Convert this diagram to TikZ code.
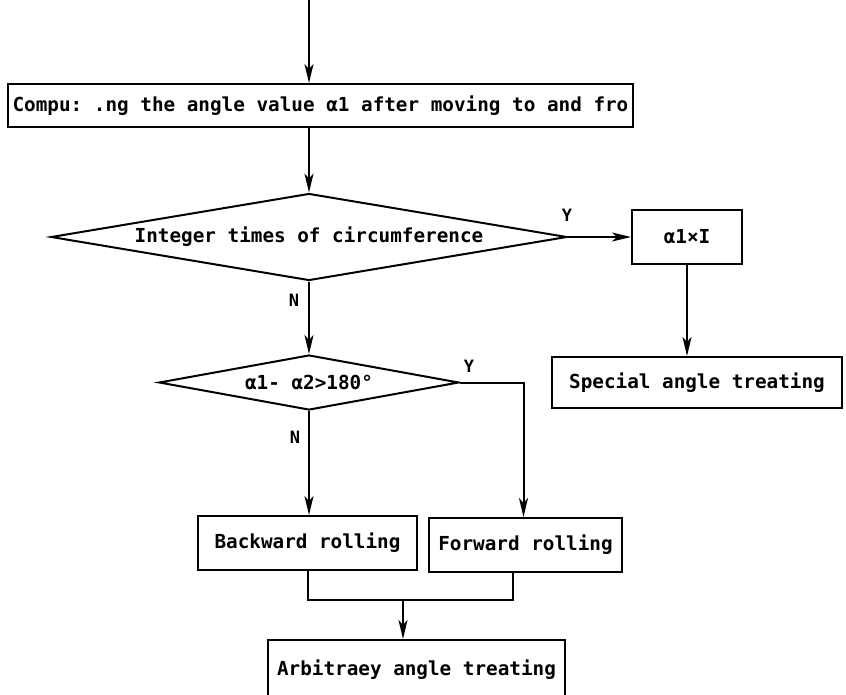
\documentclass[tikz,border=0pt]{standalone}
\usepackage{fontspec}
\setmonofont{DejaVu Sans Mono}
\usetikzlibrary{shapes.geometric,arrows.meta,calc}
\begin{document}
\begin{tikzpicture}[x=1pt,y=-1pt,
  lw/.style={line width=2pt},
  txt/.style={font=\ttfamily\bfseries\fontsize{19.3}{22}\selectfont},
  procbox/.style={draw,lw,rectangle,inner sep=0pt,txt},
  decbox/.style={draw,lw,diamond,inner sep=0pt,txt},
  lab/.style={font=\ttfamily\bfseries\fontsize{17}{19}\selectfont,inner sep=0pt},
  arr/.style={lw,-{Stealth[length=19pt,width=9pt,inset=5pt]}},
  conn/.style={lw}]
\useasboundingbox (0,0) rectangle (846,694);
\clip (0,0) rectangle (846,694);
\coordinate (start) at (309,0);
\node[procbox,minimum width=625pt,minimum height=43pt] (top) at (320.5,105.5) {Compu: .ng the angle value α1 after moving to and fro};
\node[decbox,minimum width=516pt,minimum height=87pt,aspect=5.93] (d1) at (309,237) {Integer times of circumference};
\node[procbox,minimum width=110pt,minimum height=54pt] (ab) at (687,237) {α1×I};
\node[procbox,minimum width=290pt,minimum height=51pt] (sp) at (697,382.5) {Special angle treating};
\node[decbox,minimum width=300pt,minimum height=55pt,aspect=5.45] (d2) at (309,382.5) {α1- α2>180°};
\node[procbox,minimum width=219pt,minimum height=54pt] (back) at (307.5,543) {Backward rolling};
\node[procbox,minimum width=193pt,minimum height=54pt] (fwd) at (525.5,545) {Forward rolling};
\node[procbox,minimum width=297pt,minimum height=60pt] (arb) at (416.5,670) {Arbitraey angle treating};
\coordinate (j) at (403,600);
\coordinate (fwdtop) at ($(fwd.north)+(-2,0)$);
\coordinate (fwdbot) at ($(fwd.south)+(-13,0)$);
\coordinate (backbot) at (back.south);
\draw[arr] (start) -- (start |- top.north);
\draw[arr] (top.south -| d1.north) -- (d1.north);
\draw[arr] (d1.east) -- (d1.east -| ab.west);
\draw[arr] (ab.south) -- (ab.south |- sp.north);
\draw[arr] (d1.south) -- (d2.north);
\draw[arr] (d2.south) -- (d2.south |- back.north);
\draw[arr] (d2.east) -| (fwdtop);
\draw[conn] (backbot) |- (j) -| (fwdbot);
\draw[arr] (j) -- (j |- arb.north);
\node[lab] (y1) at (567,215) {Y};
\node[lab] (n1) at (294,300) {N};
\node[lab] (y2) at (469,366) {Y};
\node[lab] (n2) at (295,437) {N};
\end{tikzpicture}
\end{document}
